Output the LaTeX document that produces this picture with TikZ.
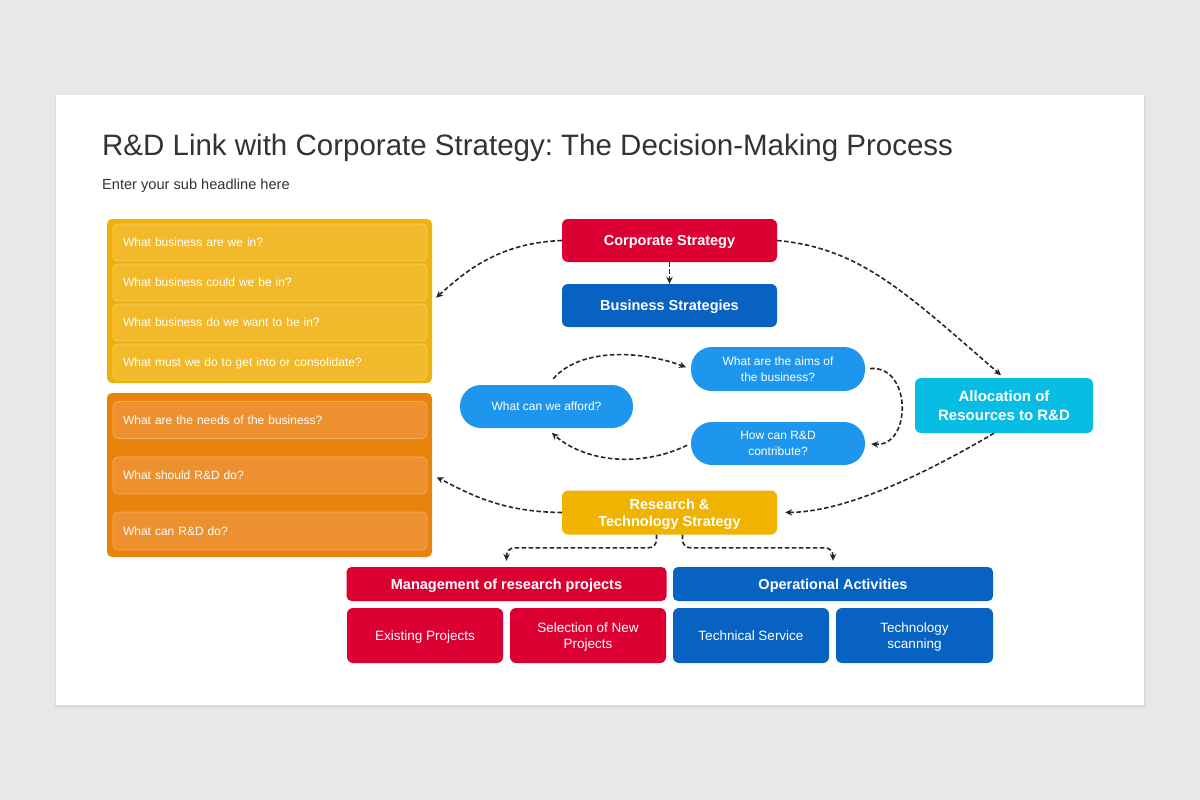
\documentclass[tikz,border=0pt]{standalone}
\usepackage{fontspec}
\setmainfont{Liberation Sans}
\usetikzlibrary{arrows.meta}
\definecolor{bgc}{HTML}{E9E8E9}
\definecolor{shadowc}{HTML}{DCDBDC}
\definecolor{titlec}{HTML}{333333}
\definecolor{yelo}{HTML}{EFB20C}
\definecolor{yeli}{HTML}{F2BA2A}
\definecolor{orgo}{HTML}{E8830C}
\definecolor{orgi}{HTML}{EC9030}
\definecolor{redc}{HTML}{DC0032}
\definecolor{bluec}{HTML}{0762C1}
\definecolor{pillc}{HTML}{1E96EE}
\definecolor{cyanc}{HTML}{08BDE3}
\definecolor{rtc}{HTML}{EFB300}
\definecolor{connc}{HTML}{262626}
\frenchspacing
\begin{document}
\begin{tikzpicture}[x=1pt,y=-1pt,
  outer/.style={rectangle, rounded corners=5pt, minimum width=325pt, minimum height=164pt, inner sep=0pt},
  row/.style={rectangle, rounded corners=5pt, draw=white, draw opacity=0.3, line width=0.8pt,
     text=white, font=\fontsize{12}{15}\selectfont, text width=294pt, inner xsep=10pt, inner ysep=0pt,
     align=left, text depth=0pt},
  box/.style={rectangle, rounded corners=6pt, text=white, inner sep=0pt, align=center, text depth=0pt},
  boldbox/.style={box, font=\bfseries\fontsize{14.5}{17.5}\selectfont},
  regbox/.style={box, font=\fontsize{13.5}{16.5}\selectfont},
  pill/.style={rectangle, rounded corners=21pt, fill=pillc, text=white, inner sep=0pt, align=center,
     font=\fontsize{12}{15.5}\selectfont, minimum width=174pt, text depth=0pt},
  conn/.style={draw=connc, line width=1.6pt, dash pattern=on 4.5pt off 2.5pt,
     -{Stealth[length=7pt,width=6.5pt]}}
]
\useasboundingbox (0,0) rectangle (1200,800);
\fill[bgc] (0,0) rectangle (1200,800);
\fill[shadowc] (55,96) rectangle (1146,708);
\fill[white] (56,95) rectangle (1144,705);

% title
\node[anchor=base west, inner sep=0pt, text=titlec, font=\fontsize{29.5}{34}\selectfont] (title) at (102,155) {R\&D Link with Corporate Strategy: The Decision-Making Process};
\node[anchor=base west, inner sep=0pt, text=titlec, font=\fontsize{14.6}{17}\selectfont] (sub) at (102,189) {Enter your sub headline here};

% left boxes
\node[outer, fill=yelo] (yel) at (269.5,301) {};
\node[row, fill=yeli, minimum height=37pt] (y1) at (270,242.5) {What business are we in?};
\node[row, fill=yeli, minimum height=37pt] (y2) at (270,282.5) {What business could we be in?};
\node[row, fill=yeli, minimum height=37pt] (y3) at (270,322.5) {What business do we want to be in?};
\node[row, fill=yeli, minimum height=36pt] (y4) at (270,362) {What must we do to get into or consolidate?};

\node[outer, fill=orgo] (org) at (269.5,475) {};
\node[row, fill=orgi, minimum height=37pt] (o1) at (270,420) {What are the needs of the business?};
\node[row, fill=orgi, minimum height=37pt] (o2) at (270,475.5) {What should R\&D do?};
\node[row, fill=orgi, minimum height=38pt] (o3) at (270,531) {What can R\&D do?};

% center
\node[boldbox, fill=redc, minimum width=215pt, minimum height=43pt] (cs) at (669.5,240.5) {Corporate Strategy};
\node[boldbox, fill=bluec, minimum width=215pt, minimum height=43pt] (bs) at (669.5,305.5) {Business Strategies};

\node[pill, minimum width=173pt, minimum height=43pt] (afford) at (546.5,406.5) {What can we afford?};
\node[pill, minimum height=44pt] (aims) at (778,369) {What are the aims of\\the business?};
\node[pill, minimum height=43pt] (contrib) at (778,443.5) {How can R\&D\\contribute?};

\node[boldbox, fill=cyanc, minimum width=178pt, minimum height=55pt, font=\bfseries\fontsize{15}{19}\selectfont] (alloc) at (1004,405.5) {Allocation of\\Resources to R\&D};

\node[boldbox, fill=rtc, minimum width=215pt, minimum height=44pt] (rt) at (669.5,512.5) {Research \&\\Technology Strategy};

\node[boldbox, fill=redc, minimum width=320pt, minimum height=34pt, rounded corners=5pt] (mgmt) at (506.5,584) {Management of research projects};
\node[boldbox, fill=bluec, minimum width=320pt, minimum height=34pt, rounded corners=5pt] (ops) at (833,584) {Operational Activities};

\node[regbox, fill=redc, minimum width=156pt, minimum height=55pt] (exist) at (425,635.5) {Existing Projects};
\node[regbox, fill=redc, minimum width=156pt, minimum height=55pt] (sel) at (588,635.5) {Selection of New\\Projects};
\node[regbox, fill=bluec, minimum width=156pt, minimum height=55pt] (tech) at (751,635.5) {Technical Service};
\node[regbox, fill=bluec, minimum width=157pt, minimum height=55pt] (scan) at (914.5,635.5) {Technology\\scanning};

% connectors
\draw[conn] (cs.south) -- (bs.north);
\draw[conn, shorten >=5pt] (cs.west) .. controls (495,243) and (462,275) .. (yel.east);
\draw[conn, shorten >=4pt] (cs.east) .. controls (860,248) and (905,292) .. (alloc.north);
\draw[conn, shorten >=8pt] ([xshift=-10pt]alloc.south) .. controls (935,468) and (850,512) .. (rt.east);
\draw[conn, shorten >=5pt] (rt.west) .. controls (500,512) and (468,493) .. (org.east);
\draw[conn, shorten <=8pt, shorten >=5pt] ([xshift=1.5pt]afford.north) .. controls (580,348) and (640,350) .. (aims.west);
\draw[conn, shorten <=5pt, shorten >=6pt] (aims.east) .. controls (912,365) and (912,447) .. (contrib.east);
\draw[conn, shorten <=4pt, shorten >=7pt] (contrib.west) .. controls (640,468) and (585,462) .. (afford.south);
\draw[conn, rounded corners=8pt, shorten >=6pt] ([xshift=-13pt]rt.south) |- ([yshift=19pt]mgmt.north) -- (mgmt.north);
\draw[conn, rounded corners=8pt, shorten >=6pt] ([xshift=13pt]rt.south) |- ([yshift=19pt]ops.north) -- (ops.north);
\end{tikzpicture}
\end{document}
